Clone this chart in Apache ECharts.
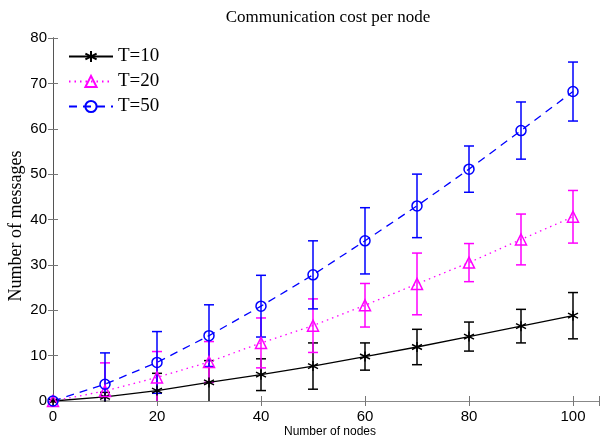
<!DOCTYPE html>
<html><head><meta charset="utf-8">
<script src="https://cdn.jsdelivr.net/npm/echarts@6/dist/echarts.min.js"></script>
<style>html,body{margin:0;padding:0;background:#fff}#c{width:602px;height:439px}</style>
</head><body><div id="c"></div>
<script>
const nodes = [0, 10, 20, 30, 40, 50, 60, 70, 80, 90, 100];
const t10 = [0, 0.9, 2.3, 4.1, 5.8, 7.7, 9.8, 11.9, 14.2, 16.5, 18.8];
const t10Err = [0, 1.0, 3.8, 4.8, 3.5, 5.1, 3.0, 3.9, 3.2, 3.7, 5.1];
const t20 = [0, 2.2, 5.2, 8.6, 12.8, 16.6, 21.1, 25.8, 30.5, 35.6, 40.6];
const t20Err = [0, 6.2, 5.7, 4.5, 5.5, 5.9, 4.8, 6.8, 4.2, 5.6, 5.8];
const t50 = [0, 3.7, 8.5, 14.4, 20.9, 27.8, 35.3, 43.0, 51.1, 59.6, 68.2];
const t50Err = [0, 6.9, 6.8, 6.8, 6.8, 7.5, 7.3, 7.0, 5.1, 6.3, 6.5];
const seriesNames = ['T=10', 'T=20', 'T=50'];
const xTicks = [0, 20, 40, 60, 80, 100];

const chart = echarts.init(document.getElementById('c'), null, {renderer: 'canvas'});

function errData(vals, errs) {
  return nodes.map((x, i) => [x, vals[i] - errs[i], vals[i] + errs[i], errs[i]]);
}
function errRender(color) {
  return function (params, api) {
    if (api.value(3) === 0) return null;
    const x = api.value(0);
    const top = api.coord([x, api.value(2)]);
    const bot = api.coord([x, api.value(1)]);
    const w = 5;
    const st = {stroke: color, lineWidth: 1.5, fill: null};
    return {type: 'group', children: [
      {type: 'line', shape: {x1: top[0], y1: top[1], x2: bot[0], y2: bot[1]}, style: st},
      {type: 'line', shape: {x1: top[0] - w, y1: top[1], x2: top[0] + w, y2: top[1]}, style: st},
      {type: 'line', shape: {x1: bot[0] - w, y1: bot[1], x2: bot[0] + w, y2: bot[1]}, style: st}
    ]};
  };
}
const star = 'path://M0,-5L0,5M-4.33,-2.5L4.33,2.5M-4.33,2.5L4.33,-2.5';
const axisCol = '#555';
const tickStyle = {show: true, inside: true, length: 5, lineStyle: {color: '#777', width: 1}};

chart.setOption({
  animation: false,
  backgroundColor: '#fff',
  grid: {left: 53, top: 38, right: -2, bottom: 38, show: false},
  legend: {
    orient: 'vertical', left: 63, top: 42, itemWidth: 44, itemHeight: 14, itemGap: 6,
    data: seriesNames,
    textStyle: {fontFamily: 'Liberation Serif', fontSize: 19, color: '#000'}
  },
  xAxis: [{
    type: 'value', min: 0, max: 105, interval: 20,
    axisLine: {show: true, lineStyle: {color: axisCol}},
    axisTick: tickStyle, splitLine: {show: false},
    axisLabel: {
      margin: 8, fontFamily: 'Liberation Sans', fontSize: 15, color: '#000',
      formatter: v => (xTicks.indexOf(v) >= 0 ? String(v) : '')
    }
  }, {
    type: 'value', min: 0, max: 105, interval: 20, position: 'top',
    axisLine: {show: true, lineStyle: {color: '#888'}},
    axisTick: tickStyle, axisLabel: {show: false}, splitLine: {show: false}
  }],
  yAxis: [{
    type: 'value', min: 0, max: 80, interval: 10,
    axisLine: {show: true, lineStyle: {color: '#333'}},
    axisTick: tickStyle, splitLine: {show: false},
    axisLabel: {margin: 6, fontFamily: 'Liberation Sans', fontSize: 15, color: '#000'}
  }, {
    type: 'value', min: 0, max: 80, interval: 10, position: 'right',
    axisLine: {show: true, lineStyle: {color: axisCol}},
    axisTick: tickStyle, axisLabel: {show: false}, splitLine: {show: false}
  }],
  graphic: [
    {type: 'text', x: 328, y: 18, style: {text: 'Communication cost per node', font: '17px "Liberation Serif"', fill: '#000', textAlign: 'center', textVerticalAlign: 'middle'}},
    {type: 'text', x: 16, y: 226, rotation: Math.PI / 2, style: {text: 'Number of messages', font: '18px "Liberation Serif"', fill: '#000', textAlign: 'center', textVerticalAlign: 'middle'}},
    {type: 'text', x: 330, y: 432, style: {text: 'Number of nodes', font: '12px "Liberation Sans"', fill: '#000', textAlign: 'center', textVerticalAlign: 'middle'}}
  ],
  series: [
    {type: 'custom', name: 'err10', clip: true, z: 1, renderItem: errRender('#000'), data: errData(t10, t10Err), encode: {x: 0, y: [1, 2]}},
    {type: 'custom', name: 'err20', clip: true, z: 1, renderItem: errRender('#ff00ff'), data: errData(t20, t20Err), encode: {x: 0, y: [1, 2]}},
    {type: 'custom', name: 'err50', clip: true, z: 1, renderItem: errRender('#0000ff'), data: errData(t50, t50Err), encode: {x: 0, y: [1, 2]}},
    {type: 'line', name: seriesNames[0], z: 3, data: nodes.map((x, i) => [x, t10[i]]),
     symbol: star, symbolSize: 10,
     lineStyle: {color: '#000', width: 1.3, type: 'solid'},
     itemStyle: {color: '#000', borderColor: '#000', borderWidth: 1.5}},
    {type: 'line', name: seriesNames[1], z: 3, data: nodes.map((x, i) => [x, t20[i]]),
     symbol: 'triangle', symbolSize: 11,
     lineStyle: {color: '#ff00ff', width: 1.3, type: [1.5, 4]},
     itemStyle: {color: 'transparent', borderColor: '#ff00ff', borderWidth: 1.5}},
    {type: 'line', name: seriesNames[2], z: 3, data: nodes.map((x, i) => [x, t50[i]]),
     symbol: 'circle', symbolSize: 10,
     lineStyle: {color: '#0000ff', width: 1.3, type: [8, 6]},
     itemStyle: {color: 'transparent', borderColor: '#0000ff', borderWidth: 1.5}}
  ]
});
</script>
</body></html>
